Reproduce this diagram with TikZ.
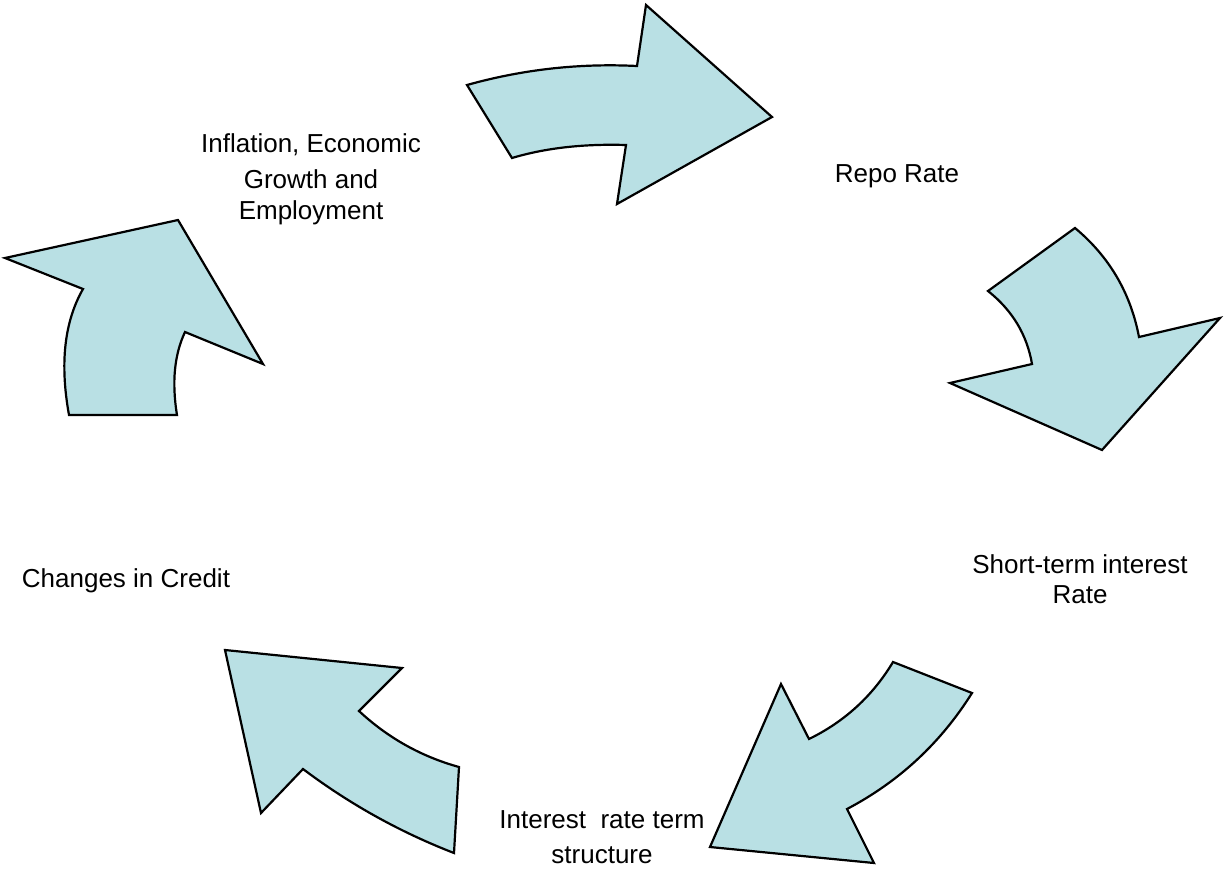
\documentclass[tikz,border=0pt]{standalone}
\usepackage{fontspec}
\setmainfont{Liberation Sans}
\definecolor{arrowfill}{RGB}{185,224,228}
\begin{document}
\begin{tikzpicture}[x=1pt,y=-1pt,
  bigarrow/.style={draw=black,fill=arrowfill,line width=2.2pt,line join=miter},
  lbl/.style={align=center,inner sep=0pt,anchor=base,font=\fontsize{26}{31}\selectfont}]
\useasboundingbox (0,0) rectangle (1224,871);
% arrow 1: top, pointing right
\draw[bigarrow] (467,85) .. controls (522.7,69.4) and (579.3,63.1) .. (637,66) -- (646,5) -- (772,117)
  -- (617,204) -- (626,145) .. controls (583.3,143.7) and (545.3,148) .. (512,158) -- cycle;
% arrow 2: right, pointing down
\draw[bigarrow] (1075,228) -- (988,291) .. controls (1012.3,310.3) and (1027,334.7) .. (1032,364)
  -- (950,383) -- (1102,450) -- (1220,318) -- (1139,337)
  .. controls (1130.6,293) and (1109.3,256.6) .. cycle;
% arrow 3: bottom right, pointing down-left
\draw[bigarrow] (893,662) -- (972,693) .. controls (940.7,742.9) and (899.1,781.6) .. (847,809)
  -- (874,863) -- (710,847) -- (781,684) -- (809,739)
  .. controls (844.6,721.6) and (872.6,696) .. cycle;
% arrow 4: bottom left, pointing up-left
\draw[bigarrow] (225,650) -- (402,668) -- (359,711) .. controls (387.8,737.8) and (421.1,756.5) .. (459,767)
  -- (454,853) .. controls (399.8,832) and (349.5,804) .. (303,769) -- (261,813) -- cycle;
% arrow 5: left, pointing up
\draw[bigarrow] (69,415) -- (177,415) .. controls (171.7,382.3) and (174.3,354.7) .. (185,332)
  -- (263,364) -- (178,220) -- (5,258) -- (83,289)
  .. controls (64.3,321.7) and (59.7,363.7) .. cycle;
% labels
\node[lbl] (infl) at (311,219) {Inflation, Economic\\[5pt]Growth and\\Employment};
\node[lbl] (repo) at (897,182) {Repo Rate};
\node[lbl,font=\fontsize{26}{30}\selectfont] (short) at (1080,603) {Short-term interest\\Rate};
\node[lbl,font=\fontsize{26}{35}\selectfont] (term) at (602,863) {Interest\ \ rate term\\structure};
\node[lbl] (credit) at (126,587) {Changes in Credit};
\end{tikzpicture}
\end{document}
